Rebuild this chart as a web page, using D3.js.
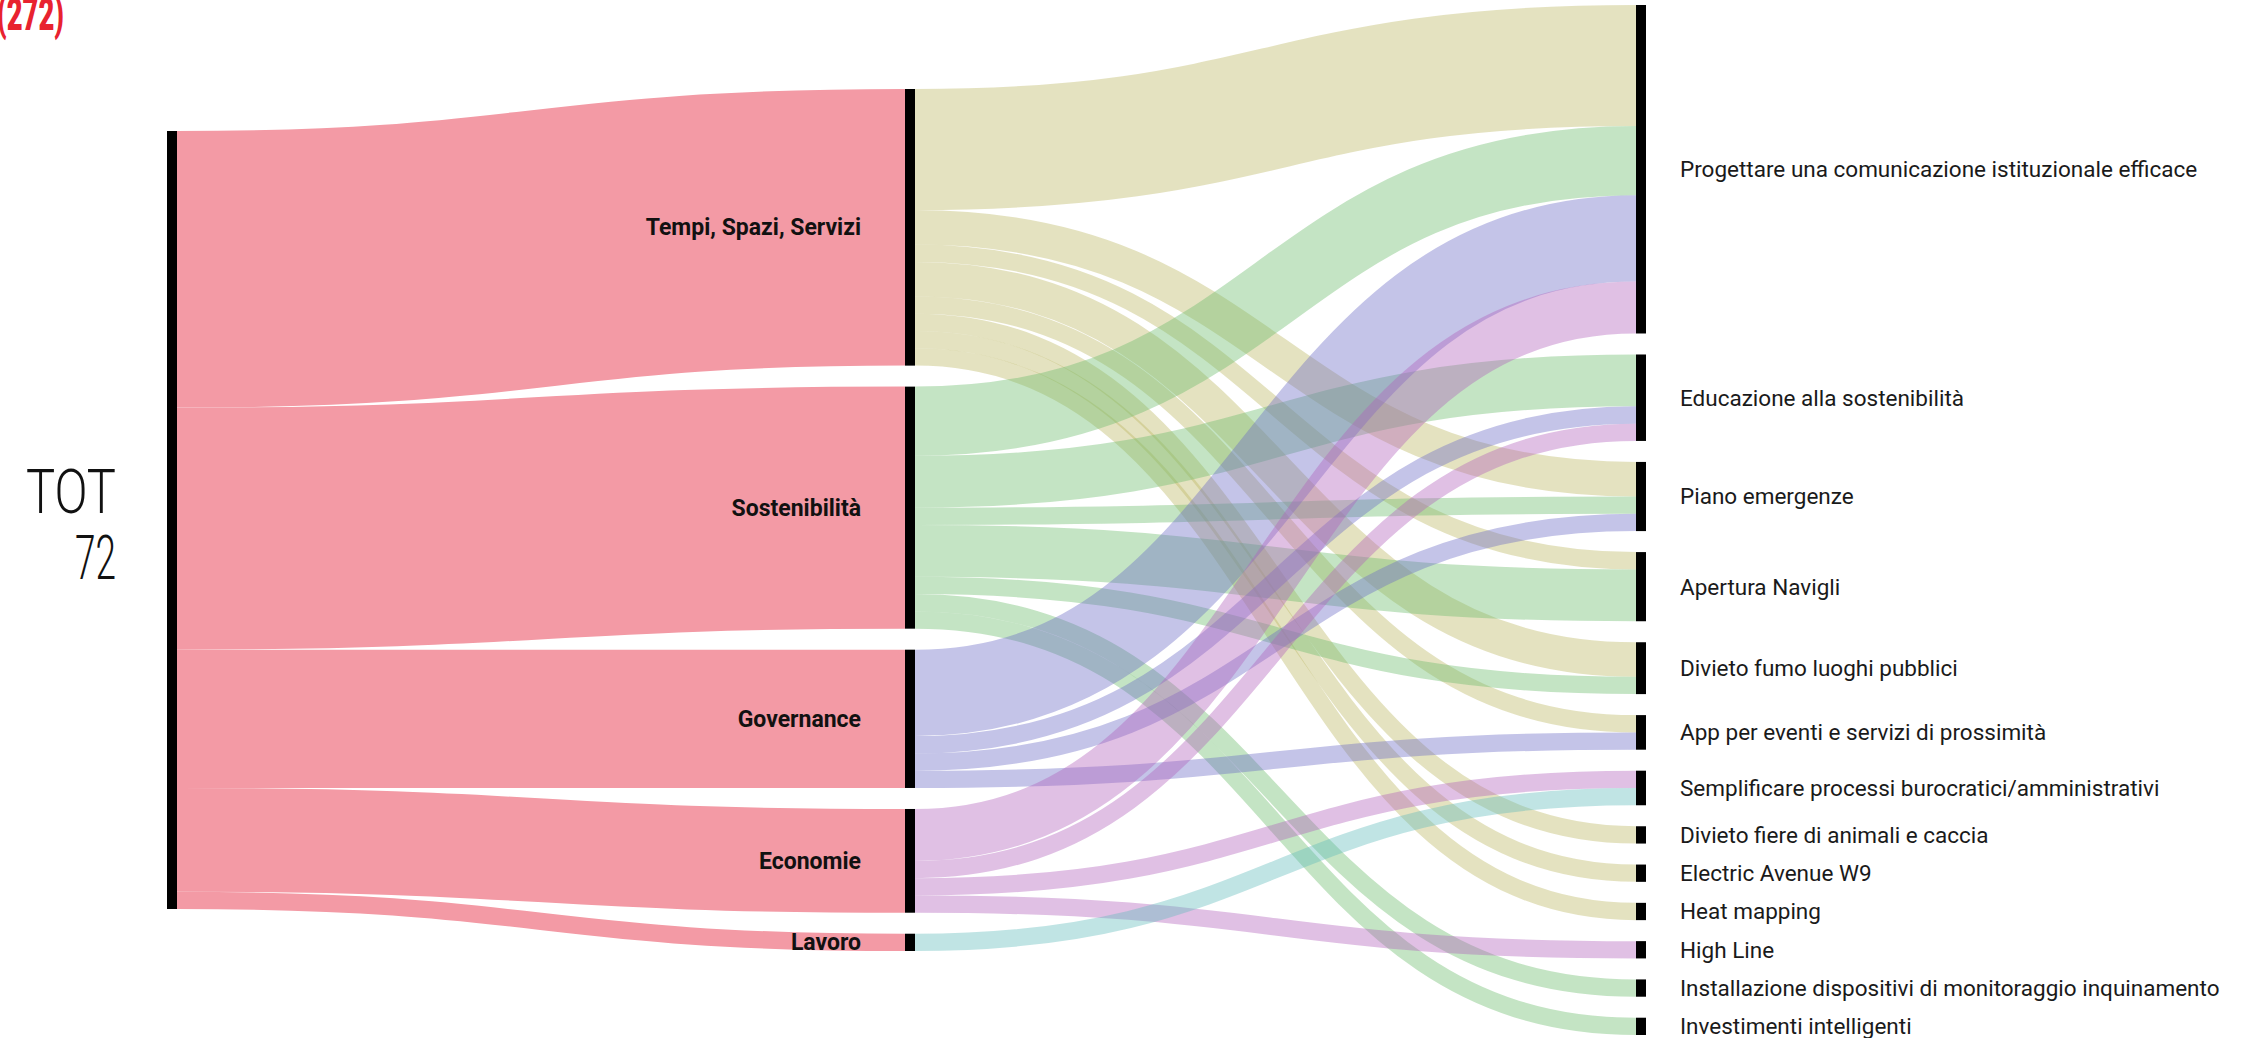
<!DOCTYPE html>
<html>
<head>
<meta charset="utf-8">
<script src="https://cdn.jsdelivr.net/npm/d3@7"></script>
<style>
  body { margin: 0; background: #fff; }
  svg { display: block; }
</style>
</head>
<body>
<svg id="chart" width="2261" height="1038"></svg>
<script>
// ---- data ----
var rootName = "TOT";
var rootLabel = ["TOT", "72"];

var categories = ["Tempi, Spazi, Servizi", "Sostenibilità", "Governance", "Economie", "Lavoro"];
var categoryValues = [16, 14, 8, 6, 1];
var categoryColors = ["#bbb661", "#6bbb6b", "#6b6bc5", "#b161bb", "#61bbbb"];

var projects = [
    "Progettare una comunicazione istituzionale efficace",
    "Educazione alla sostenibilità",
    "Piano emergenze",
    "Apertura Navigli",
    "Divieto fumo luoghi pubblici",
    "App per eventi e servizi di prossimità",
    "Semplificare processi burocratici/amministrativi",
    "Divieto fiere di animali e caccia",
    "Electric Avenue W9",
    "Heat mapping",
    "High Line",
    "Installazione dispositivi di monitoraggio inquinamento",
    "Investimenti intelligenti"
];

// category -> project
var flows = [
    ["Tempi, Spazi, Servizi", "Progettare una comunicazione istituzionale efficace", 7],
    ["Tempi, Spazi, Servizi", "Piano emergenze", 2],
    ["Tempi, Spazi, Servizi", "Apertura Navigli", 1],
    ["Tempi, Spazi, Servizi", "Divieto fumo luoghi pubblici", 2],
    ["Tempi, Spazi, Servizi", "App per eventi e servizi di prossimità", 1],
    ["Tempi, Spazi, Servizi", "Divieto fiere di animali e caccia", 1],
    ["Tempi, Spazi, Servizi", "Electric Avenue W9", 1],
    ["Tempi, Spazi, Servizi", "Heat mapping", 1],
    ["Sostenibilità", "Progettare una comunicazione istituzionale efficace", 4],
    ["Sostenibilità", "Educazione alla sostenibilità", 3],
    ["Sostenibilità", "Piano emergenze", 1],
    ["Sostenibilità", "Apertura Navigli", 3],
    ["Sostenibilità", "Divieto fumo luoghi pubblici", 1],
    ["Sostenibilità", "Installazione dispositivi di monitoraggio inquinamento", 1],
    ["Sostenibilità", "Investimenti intelligenti", 1],
    ["Governance", "Progettare una comunicazione istituzionale efficace", 5],
    ["Governance", "Educazione alla sostenibilità", 1],
    ["Governance", "Piano emergenze", 1],
    ["Governance", "App per eventi e servizi di prossimità", 1],
    ["Economie", "Progettare una comunicazione istituzionale efficace", 3],
    ["Economie", "Educazione alla sostenibilità", 1],
    ["Economie", "Semplificare processi burocratici/amministrativi", 1],
    ["Economie", "High Line", 1],
    ["Lavoro", "Semplificare processi burocratici/amministrativi", 1]
];

// ---- layout ----
var svg = d3.select("#chart");

var nodeWidth = 10,
    nodePadding = 21,
    centerY = 520;

var total = d3.sum(categoryValues);

// value -> pixel height
var yScale = d3.scaleLinear()
    .domain([0, total])
    .range([0, 778]);

// column positions (left edge of node bars)
var xScale = d3.scaleOrdinal()
    .domain([0, 1, 2])
    .range([167, 905, 1636]);

var nodes = {};
function addColumn(names, values, col) {
    var h = d3.sum(values, function (v) { return yScale(v); }) + (names.length - 1) * nodePadding;
    var y = centerY - h / 2;
    names.forEach(function (name, i) {
        var hh = yScale(values[i]);
        nodes[name] = { name: name, col: col, x0: xScale(col), x1: xScale(col) + nodeWidth,
                        y0: y, y1: y + hh, outY: y, inY: y, index: i };
        y += hh + nodePadding;
    });
}

var projectValues = projects.map(function (p) {
    return d3.sum(flows.filter(function (f) { return f[1] === p; }), function (f) { return f[2]; });
});

addColumn([rootName], [total], 0);
addColumn(categories, categoryValues, 1);
addColumn(projects, projectValues, 2);

// links
var links = [];
categories.forEach(function (c, i) {
    links.push({ source: nodes[rootName], target: nodes[c], value: categoryValues[i], color: "#f39aa5", opacity: 1 });
});
flows.forEach(function (f) {
    var ci = categories.indexOf(f[0]);
    links.push({ source: nodes[f[0]], target: nodes[f[1]], value: f[2], color: categoryColors[ci], opacity: 0.4 });
});

// source side ordered by target position, target side by source position
var bySourceOrder = links.slice().sort(function (a, b) {
    return a.source.y0 - b.source.y0 || a.target.y0 - b.target.y0;
});
bySourceOrder.forEach(function (l) {
    l.width = yScale(l.value);
    l.y0 = l.source.outY + l.width / 2;
    l.source.outY += l.width;
});
var byTargetOrder = links.slice().sort(function (a, b) {
    return a.target.y0 - b.target.y0 || a.source.y0 - b.source.y0;
});
byTargetOrder.forEach(function (l) {
    l.y1 = l.target.inY + l.width / 2;
    l.target.inY += l.width;
});

var linkPath = d3.linkHorizontal()
    .source(function (d) { return [d.source.x1, d.y0]; })
    .target(function (d) { return [d.target.x0, d.y1]; });

svg.append("g")
    .attr("fill", "none")
    .selectAll("path")
    .data(links)
    .enter().append("path")
    .attr("d", linkPath)
    .attr("stroke", function (d) { return d.color; })
    .attr("stroke-opacity", function (d) { return d.opacity; })
    .attr("stroke-width", function (d) { return d.width; });

var nodeList = Object.keys(nodes).map(function (k) { return nodes[k]; });

svg.append("g")
    .selectAll("rect")
    .data(nodeList)
    .enter().append("rect")
    .attr("x", function (d) { return d.x0; })
    .attr("y", function (d) { return d.y0; })
    .attr("width", nodeWidth)
    .attr("height", function (d) { return d.y1 - d.y0; })
    .attr("fill", "#000");

// category labels (inside, left of the bar)
svg.append("g")
    .selectAll("text")
    .data(categories.map(function (c) { return nodes[c]; }))
    .enter().append("text")
    .attr("x", function (d) { return d.x0 - 44; })
    .attr("y", function (d) { return (d.y0 + d.y1) / 2; })
    .attr("dy", "0.35em")
    .attr("text-anchor", "end")
    .style("font-family", "Roboto, sans-serif")
    .style("font-weight", "bold")
    .style("font-size", "23px")
    .style("fill", "#111")
    .text(function (d) { return d.name; });

// project labels
svg.append("g")
    .selectAll("text")
    .data(projects.map(function (p) { return nodes[p]; }))
    .enter().append("text")
    .attr("x", function (d) { return d.x1 + 34; })
    .attr("y", function (d) { return (d.y0 + d.y1) / 2; })
    .attr("dy", "0.35em")
    .style("font-family", "Roboto, sans-serif")
    .style("font-size", "22.5px")
    .style("fill", "#1a1a1a")
    .text(function (d) { return d.name; });

// TOT label
var totWidths = [90, 41];
var tot = svg.append("text")
    .attr("text-anchor", "end")
    .style("font-family", "Roboto, sans-serif")
    .style("font-weight", "300")
    .style("font-size", "62px")
    .style("fill", "#111");
tot.selectAll("tspan")
    .data(rootLabel)
    .enter().append("tspan")
    .attr("x", 116)
    .attr("y", function (d, i) { return 513 + i * 66; })
    .attr("textLength", function (d, i) { return totWidths[i]; })
    .attr("lengthAdjust", "spacingAndGlyphs")
    .text(function (d) { return d; });

// cropped title fragment (cut by the top edge, as in the source)
svg.append("text")
    .attr("x", -3)
    .attr("y", 30)
    .attr("textLength", 67)
    .attr("lengthAdjust", "spacingAndGlyphs")
    .style("font-family", "Roboto, sans-serif")
    .style("font-weight", "900")
    .style("font-size", "46px")
    .style("fill", "#e8222f")
    .text("(272)");
</script>
</body>
</html>
